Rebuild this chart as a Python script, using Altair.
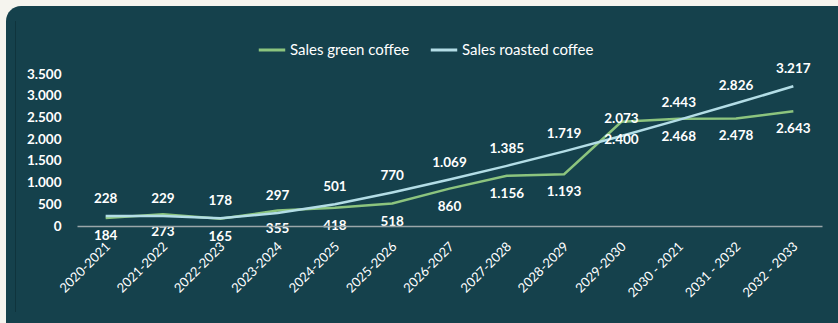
import altair as alt
import pandas as pd

periods = ["2020-2021", "2021-2022", "2022-2023", "2023-2024", "2024-2025", "2025-2026",
           "2026-2027", "2027-2028", "2028-2029", "2029-2030", "2030 - 2021", "2031 - 2032", "2032 - 2033"]
green = [184, 273, 165, 355, 418, 518, 860, 1156, 1193, 2400, 2468, 2478, 2643]
roasted = [228, 229, 178, 297, 501, 770, 1069, 1385, 1719, 2073, 2443, 2826, 3217]
series_names = ["Sales green coffee", "Sales roasted coffee"]
y_ticks = [0, 500, 1000, 1500, 2000, 2500, 3000, 3500]

rows = []
for p, g, r in zip(periods, green, roasted):
    rows.append({"period": p, "series": series_names[0], "value": g})
    rows.append({"period": p, "series": series_names[1], "value": r})
df = pd.DataFrame(rows)

FONT = "Lato"
PANEL = "#15414c"
CREAM = "#f5f4ee"
W, H = 745, 152
PL, PT = 77, 74

x_enc = alt.X("period:N", sort=periods, scale=alt.Scale(type="point", padding=0.5),
              axis=alt.Axis(title=None, labelAngle=-45, labelAlign="right", labelBaseline="middle",
                            labelFont=FONT, labelFontSize=13, labelColor="#ffffff", labelPadding=18,
                            labelOffset=2, labelOverlap=False,
                            ticks=False, domainColor="#9aa6a9", domainWidth=1.5, grid=False, zindex=1))
y_enc = alt.Y("value:Q", scale=alt.Scale(domain=[0, 3500], nice=False),
              axis=alt.Axis(title=None, values=y_ticks, grid=False, domain=False, ticks=False,
                            labelFont=FONT, labelFontSize=13.5, labelFontWeight="bold",
                            labelColor="#ffffff", labelPadding=16, zindex=1, labelOverlap=False,
                            labelBound=False, labelFlush=False,
                            labelExpr="replace(format(datum.value, ','), ',', '.')"))
color_enc = alt.Color("series:N", scale=alt.Scale(domain=series_names, range=["#8cc47e", "#b3dde6"]),
                      legend=alt.Legend(title=None, orient="none", direction="horizontal",
                                        legendX=180, legendY=-39, symbolType="stroke",
                                        symbolSize=700, symbolStrokeWidth=3, labelFont=FONT,
                                        labelFontSize=15, labelColor="#ffffff", labelOffset=3,
                                        columnPadding=14, labelLimit=300, zindex=1))

bg = alt.Chart(pd.DataFrame({"a": [0]})).mark_rect(color=PANEL, cornerRadius=15).encode(
    x=alt.value(6 - PL), x2=alt.value(838 - PL + 20),
    y=alt.value(6 - PT), y2=alt.value(323 - PT + 20))
edge = alt.Chart(pd.DataFrame({"a": [0]})).mark_rule(color="#0f343d", strokeWidth=1).encode(
    x=alt.value(15.5 - PL), y=alt.value(21 - PT), y2=alt.value(312 - PT))

lines = alt.Chart(df).mark_line(strokeWidth=2.5).encode(x=x_enc, y=y_enc, color=color_enc)

base_text = alt.Chart(df).transform_calculate(
    label="replace(format(datum.value, ','), ',', '.')")
txt_g = base_text.transform_filter(alt.datum.series == series_names[0]).mark_text(
    dy=18, font=FONT, fontSize=13.5, fontWeight="bold", color="#ffffff").encode(
    x=x_enc, y=y_enc, text="label:N")
txt_r = base_text.transform_filter(alt.datum.series == series_names[1]).mark_text(
    dy=-17, font=FONT, fontSize=13.5, fontWeight="bold", color="#ffffff").encode(
    x=x_enc, y=y_enc, text="label:N")

chart = alt.layer(bg, edge, lines, txt_g, txt_r).properties(
    width=W, height=H, background=CREAM,
    padding={"left": PL, "top": PT, "right": 838 - PL - W, "bottom": 323 - PT - H},
    autosize=alt.AutoSizeParams(type="none"),
).configure_view(stroke=None).configure_axis(labelOverlap=False)

chart.save("out.html", embed_options={"renderer": "svg", "actions": False})
